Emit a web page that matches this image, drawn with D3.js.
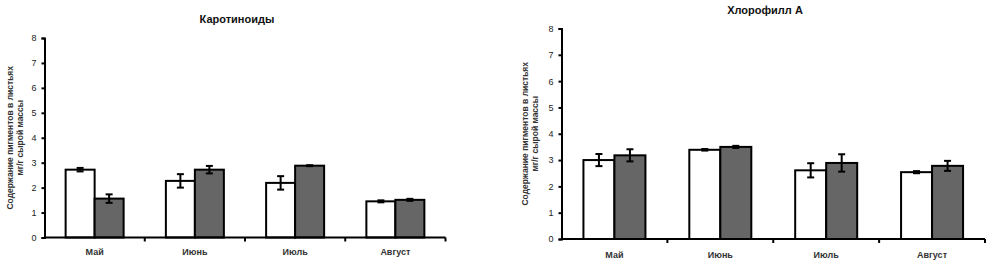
<!DOCTYPE html>
<html><head><meta charset="utf-8">
<script src="https://cdn.jsdelivr.net/npm/d3@7"></script>
<style>body{margin:0;background:#fff}svg{display:block}</style>
</head><body>
<svg id="c" width="993" height="268"></svg>
<script>
const months = ["Май","Июнь","Июль","Август"];
const yTicks = [0,1,2,3,4,5,6,7,8];
const yLabel1 = "Содержание пигментов в листьях";
const yLabel2 = "мг/г сырой массы";

const carTitle = "Каротиноиды";
const carWhite = [2.72, 2.27, 2.19, 1.45];
const carWhiteErr = [0.07, 0.27, 0.27, 0.04];
const carGray = [1.56, 2.72, 2.88, 1.51];
const carGrayErr = [0.17, 0.15, 0.02, 0.04];

const chlTitle = "Хлорофилл А";
const chlWhite = [3.0, 3.39, 2.61, 2.54];
const chlWhiteErr = [0.23, 0.03, 0.27, 0.04];
const chlGray = [3.18, 3.50, 2.89, 2.78];
const chlGrayErr = [0.23, 0.04, 0.33, 0.19];

const svg = d3.select("#c");
const font = "'Liberation Sans', Arial, sans-serif";

function drawChart(cfg){
  const g = svg.append("g");
  const x = d3.scaleBand().domain(months).range([cfg.x0, cfg.x1]);
  const y = d3.scaleLinear().domain([0,8]).range([cfg.y0, cfg.y1]);
  const bw = cfg.bw;
  const series = [
    {vals: cfg.white, errs: cfg.whiteErr, fill: "#ffffff", off: -bw},
    {vals: cfg.gray, errs: cfg.grayErr, fill: "#666666", off: 0}
  ];
  series.forEach(s => {
    g.selectAll(null).data(months).enter().append("rect")
      .attr("x", (d) => x(d) + x.bandwidth()/2 + s.off)
      .attr("y", (d,i) => y(s.vals[i]))
      .attr("width", bw)
      .attr("height", (d,i) => y(0) - y(s.vals[i]))
      .attr("fill", s.fill).attr("stroke", "#000").attr("stroke-width", 2);
  });
  series.forEach(s => {
    months.forEach((m,i) => {
      const cx = x(m) + x.bandwidth()/2 + s.off + bw/2;
      const lo = y(s.vals[i] - s.errs[i]), hi = y(s.vals[i] + s.errs[i]);
      g.append("line").attr("x1",cx).attr("x2",cx).attr("y1",lo).attr("y2",hi).attr("stroke","#000").attr("stroke-width",2);
      [lo,hi].forEach(yy => g.append("line").attr("x1",cx-3.5).attr("x2",cx+3.5).attr("y1",yy).attr("y2",yy).attr("stroke","#000").attr("stroke-width",2));
    });
  });
  // y axis
  const ya = g.append("g").attr("transform", `translate(${cfg.x0},0)`)
    .call(d3.axisLeft(y).tickValues(yTicks).tickSize(3).tickPadding(5).tickFormat(d3.format("d")));
  ya.select(".domain").attr("stroke","#000").attr("stroke-width",2);
  ya.selectAll(".tick line").attr("stroke","#000").attr("stroke-width",2);
  ya.selectAll("text").attr("font-family", font).attr("font-size", 9).attr("fill","#222");
  // x axis
  const xa = g.append("g").attr("transform", `translate(0,${cfg.y0})`);
  xa.append("line").attr("x1", cfg.x0).attr("x2", cfg.x1).attr("y1",0).attr("y2",0).attr("stroke","#000").attr("stroke-width",2);
  months.forEach(m => {
    xa.append("line").attr("x1", x(m)+x.bandwidth()).attr("x2", x(m)+x.bandwidth()).attr("y1",0).attr("y2",4).attr("stroke","#000").attr("stroke-width",2);
    xa.append("text").attr("x", x(m)+x.bandwidth()/2).attr("y", cfg.catY - cfg.y0)
      .attr("text-anchor","middle").attr("font-family",font).attr("font-size",9).attr("font-weight","bold").attr("fill","#333").text(m);
  });
  // title
  g.append("text").attr("x", cfg.titleX).attr("y", cfg.titleY).attr("text-anchor","middle")
    .attr("font-family",font).attr("font-size",11).attr("font-weight","bold").attr("fill","#111").text(cfg.title);
  // y label
  const cy = (cfg.y0 + cfg.y1)/2;
  [[yLabel1, cfg.labX],[yLabel2, cfg.labX+10]].forEach(([t,lx]) => {
    g.append("text").attr("transform", `translate(${lx},${cy}) rotate(-90)`).attr("text-anchor","middle")
      .attr("font-family",font).attr("font-size",8.5).attr("font-weight","bold").attr("fill","#333").text(t);
  });
}

drawChart({x0:44.5, x1:445.5, y0:237.5, y1:38, bw:29, white:carWhite, whiteErr:carWhiteErr, gray:carGray, grayErr:carGrayErr,
  title:carTitle, titleX:237, titleY:23, catY:255, labX:13});
drawChart({x0:561.5, x1:985, y0:239, y1:28.5, bw:31, white:chlWhite, whiteErr:chlWhiteErr, gray:chlGray, grayErr:chlGrayErr,
  title:chlTitle, titleX:765, titleY:14, catY:258, labX:528});
</script>
</body></html>
